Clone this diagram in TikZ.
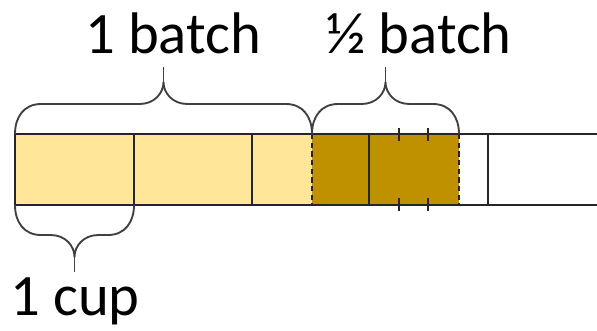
\documentclass[tikz,border=0pt]{standalone}
\usepackage{fontspec}
\setmainfont{Carlito}
\usetikzlibrary{positioning}
\definecolor{lightgold}{HTML}{FFE699}
\definecolor{darkgold}{HTML}{BF9000}
\tikzset{
    % lines of the bar and of the braces
    bar line/.style={line width=1.8pt,draw=black!85},
    brace line/.style={line width=1.4pt,draw=black!75,line join=round},
    label text/.style={font=\fontsize{44}{50}\selectfont,anchor=base,inner sep=0pt}
}
% curly brace: left x, right x, base y, direction (-1 up, 1 down)
\newcommand{\curly}[4]{%
    \draw[brace line] (#1,#3)
        .. controls (#1,{#3+#4*17}) and ({#1+9},{#3+#4*30}) .. ({#1+26},{#3+#4*30})
        -- ({(#1+#2)/2-24},{#3+#4*30})
        .. controls ({(#1+#2)/2-9},{#3+#4*30}) and ({(#1+#2)/2},{#3+#4*41}) .. ({(#1+#2)/2},{#3+#4*52})
        .. controls ({(#1+#2)/2},{#3+#4*41}) and ({(#1+#2)/2+9},{#3+#4*30}) .. ({(#1+#2)/2+24},{#3+#4*30})
        -- ({#2-26},{#3+#4*30})
        .. controls ({#2-9},{#3+#4*30}) and (#2,{#3+#4*17}) .. (#2,#3);
    \draw[brace line] ({(#1+#2)/2},{#3+#4*52}) -- ({(#1+#2)/2},{#3+#4*67});
}

\begin{document}
\begin{tikzpicture}[x=0.75pt,y=-0.75pt]
    \useasboundingbox (0,0) rectangle (597,330);
    \fill[lightgold] (15,134) rectangle (312,205);
    \fill[darkgold] (312,134) rectangle (459,205);
    \draw[bar line] (15,134) -- (597,134);
    \draw[bar line] (15,205) -- (597,205);
    \foreach \x in {15,134,252,369,488}
    \draw[bar line] (\x,134) -- (\x,205);
    \foreach \x in {312,459}
    \draw[bar line,dash pattern=on 4pt off 2.5pt] (\x,134) -- (\x,205);
    \foreach \x in {399,428} {
        \draw[bar line,line width=2.2pt] (\x,128) -- (\x,141);
        \draw[bar line,line width=2.2pt] (\x,198) -- (\x,211);
    }
    \curly{15}{312}{134}{-1}
    \curly{312}{459}{134}{-1}
    \curly{15}{134}{205}{1}
    \node[label text] (onebatch) at (173,53) {1 batch};
    \node[label text] (halfbatch) at (419,53) {½ batch};
    \node[label text] (onecup) at (75,315) {1 cup};
\end{tikzpicture}
\end{document}
